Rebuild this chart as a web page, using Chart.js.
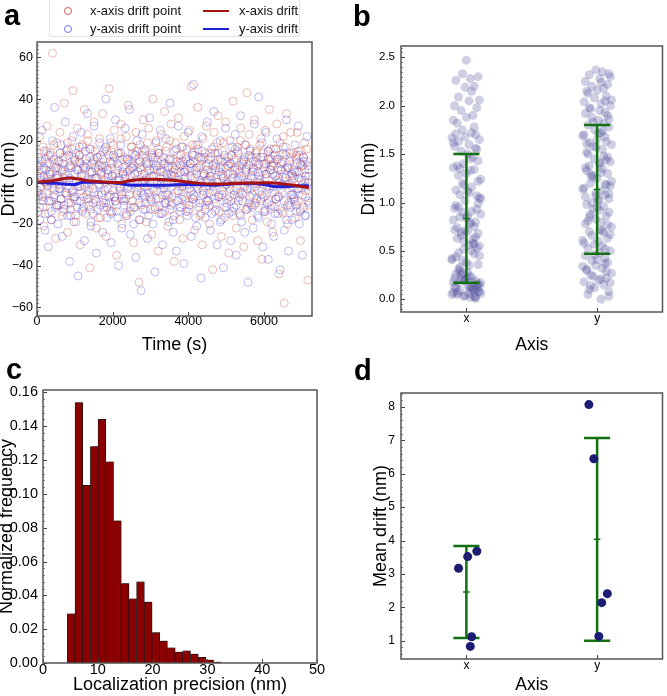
<!DOCTYPE html>
<html>
<head>
<meta charset="utf-8">
<script src="https://cdn.jsdelivr.net/npm/chart.js@4.4.1/dist/chart.umd.min.js"></script>
<style>
  body { margin: 0; background: #fff; width: 667px; height: 696px; position: relative; overflow: hidden;
         font-family: 'Liberation Sans', Arial, sans-serif; }
  canvas { position: absolute; }
  .lbl { position: absolute; font-weight: bold; font-size: 29px; line-height: 29px; color: #000; }
  #legendA { position: absolute; left: 49px; top: 0; width: 251px; height: 37px; border: 1px solid #e2e2e2;
             border-top: none; border-radius: 0 0 3px 3px; box-sizing: border-box; }
  .li { position: absolute; font-size: 13px; line-height: 18px; color: #111; white-space: nowrap; }
  .circ { position: absolute; width: 8px; height: 8px; border-radius: 50%; box-sizing: border-box; }
  .ln { position: absolute; width: 26px; height: 2px; }
</style>
</head>
<body>
<canvas id="chartA" width="333" height="356" style="left:0;top:0"></canvas>
<canvas id="chartB" width="333" height="356" style="left:334px;top:0"></canvas>
<canvas id="chartC" width="333" height="348" style="left:0;top:348px"></canvas>
<canvas id="chartD" width="333" height="348" style="left:334px;top:348px"></canvas>

<div id="legendA">
  <span class="circ" style="left:14px;top:7px;border:1px solid rgba(200,70,60,0.85)"></span>
  <div class="li" style="left:40px;top:2px">x-axis drift point</div>
  <span class="circ" style="left:14px;top:25px;border:1px solid rgba(90,90,235,0.85)"></span>
  <div class="li" style="left:40px;top:20px">y-axis drift point</div>
  <span class="ln" style="left:153px;top:10px;background:#a81414"></span>
  <div class="li" style="left:189px;top:2px">x-axis drift</div>
  <span class="ln" style="left:153px;top:28px;background:#1f1fd6"></span>
  <div class="li" style="left:189px;top:20px">y-axis drift</div>
</div>

<div class="lbl" style="left:4px;top:1px">a</div>
<div class="lbl" style="left:353px;top:2px">b</div>
<div class="lbl" style="left:6px;top:355px">c</div>
<div class="lbl" style="left:354px;top:356px">d</div>

<script>
// ---- a: drift points over time (x and y share the time stamps) ----
const aTime = [
  12, 38, 71, 95, 130, 158, 183, 214, 240, 268, 301, 327, 355, 381, 410, 442, 466, 494, 525, 551,
  583, 607, 636, 668, 690, 722, 749, 780, 806, 833, 864, 889, 917, 948, 975, 1003, 1030, 1061, 1086, 1117,
  1143, 1172, 1199, 1230, 1255, 1284, 1313, 1340, 1370, 1396, 1425, 1452, 1483, 1509, 1538, 1566, 1594, 1622, 1653, 1679,
  1708, 1737, 1763, 1794, 1820, 1849, 1878, 1905, 1934, 1962, 1990, 2019, 2046, 2075, 2103, 2132, 2160, 2188, 2217, 2244,
  2273, 2301, 2330, 2357, 2386, 2414, 2443, 2470, 2499, 2527, 2556, 2583, 2612, 2640, 2669, 2696, 2725, 2753, 2782, 2809,
  2838, 2866, 2895, 2922, 2951, 2979, 3008, 3035, 3064, 3092, 3121, 3148, 3177, 3205, 3234, 3261, 3290, 3318, 3347, 3374,
  3403, 3431, 3460, 3487, 3516, 3544, 3573, 3600, 3629, 3657, 3686, 3713, 3742, 3770, 3799, 3826, 3855, 3883, 3912, 3939,
  3968, 3996, 4025, 4052, 4081, 4109, 4138, 4165, 4194, 4222, 4251, 4278, 4307, 4335, 4364, 4391, 4420, 4448, 4477, 4504,
  4533, 4561, 4590, 4617, 4646, 4674, 4703, 4730, 4759, 4787, 4816, 4843, 4872, 4900, 4929, 4956, 4985, 5013, 5042, 5069,
  5098, 5126, 5155, 5182, 5211, 5239, 5268, 5295, 5324, 5352, 5381, 5408, 5437, 5465, 5494, 5521, 5550, 5578, 5607, 5634,
  5663, 5691, 5720, 5747, 5776, 5804, 5833, 5860, 5889, 5917, 5946, 5973, 6002, 6030, 6059, 6086, 6115, 6143, 6172, 6199,
  6228, 6256, 6285, 6312, 6341, 6369, 6398, 6425, 6454, 6482, 6511, 6538, 6567, 6595, 6624, 6651, 6680, 6708, 6737, 6764,
  6793, 6821, 6850, 6877, 6906, 6934, 6963, 6990, 7019, 7047, 7076, 7103, 7132, 7160, 7189
];
// wide spread localisations
const aDriftX = [
  8, -14, 22, 3, -6, 17, -21, 11, 0, 27, -9, 5, 14, -18, 62, -3, 9, -27, 19, 2,
  -11, 24, 6, -16, 12, 38, -5, 15, -24, 7, 1, -13, 20, 44, -8, 10, -19, 26, -2, 13,
  -30, 4, 18, -7, 35, -15, 9, 23, -4, -41, 16, 1, -10, 29, 7, -22, 12, -1, 21, -17,
  5, 33, -12, 8, -26, 15, 2, 45, -6, 19, -14, 10, 25, -9, -35, 6, 14, -3, 28, -20,
  11, -8, 3, 22, -16, 37, 0, -12, 17, 7, -29, 13, 24, -5, 9, -48, 18, -11, 4, 30,
  -2, 15, -19, 8, 26, -7, 12, -25, 40, 3, -13, 20, 6, -33, 14, -1, 23, -15, 9, 34,
  -6, 17, -21, 2, 11, 28, -10, 5, -38, 19, 8, -4, 31, -18, 13, 0, -27, 22, 6, -9,
  16, -14, 25, 3, 46, -8, 10, -23, 18, -2, 36, 7, -16, 12, -30, 21, 4, -11, 27, -5,
  9, -20, 14, 1, -42, 24, 6, -13, 19, 32, -7, 11, -26, 15, 3, -17, 29, -1, 8, -34,
  20, -9, 13, 39, -4, 7, -22, 17, 2, -15, 26, 10, -6, -31, 18, 5, 43, -12, 23, -3,
  12, -18, 6, 30, -10, 15, -28, 9, 0, 21, -37, 14, -7, 25, 4, -19, 11, 35, -13, 8,
  -24, 16, 3, -8, 28, 11, -44, 19, 6, -14, 22, -58, 13, 33, -20, 7, -11, 24, 1, -2,
  6, -17, 13, 24, -9, 2, -28, 15, 8, -12, 19, -4, 10, -47, 3
];
const aDriftY = [
  -5, 12, -18, 2, 25, -9, 7, -23, 15, -1, -31, 9, 4, -14, 20, -7, 36, -12, 3, -20,
  10, -3, 18, -26, 6, -11, 29, 1, -16, 13, -38, 8, -5, 22, -19, 4, 14, -9, -45, 17,
  -2, 24, -13, 7, -28, 11, 0, 33, -8, 16, -21, 5, -15, 27, 2, -34, 12, -6, 19, -11,
  8, -24, 15, -4, 40, -17, 6, -10, 21, -29, 3, 13, -7, 30, -14, 9, -40, 1, 18, -22,
  4, -9, 26, -16, 11, -2, 35, -25, 7, 14, -12, 0, -36, 20, 5, -18, 10, -52, 23, -6,
  16, -13, 2, -27, 9, 31, -8, 13, -20, 6, -43, 19, -4, 8, -15, 25, -1, -30, 12, -10,
  21, -5, 7, -19, 38, -11, 3, -24, 15, 0, -33, 10, 27, -14, 5, -8, 17, -39, 2, 11,
  -16, 24, -3, 9, -26, 14, 47, -7, 6, -21, 18, -12, 1, -46, 22, -4, 12, -17, 8, 29,
  -9, 3, -23, 16, -1, 34, -14, 7, -30, 11, -6, 20, -18, 4, -41, 13, 26, -10, 0, -15,
  9, -28, 17, 2, -12, 23, -35, 6, 14, -7, 32, -19, 1, 10, -24, 18, -3, -48, 8, 15,
  -11, 5, -22, 28, -2, 12, -16, 41, 3, -9, 19, -31, 7, -13, 24, -5, -37, 11, 16, -20,
  4, -26, 13, -8, 21, -15, 2, -42, 9, -1, 17, -23, 6, 30, -11, -33, 14, -6, -18, 3,
  -7, 18, -14, 5, 27, -20, 9, -3, -35, 12, 1, -16, 22, -9, 6
];
// core localisations (second batch on the same frames)
const aDriftX2 = [
  3, -7, 11, -2, 6, -12, 15, 0, -5, 9, -15, 4, 13, -9, 1, 18, -4, 7, -11, 10,
  -1, 14, -8, 5, -14, 2, 12, -6, 19, -3, 8, -10, 16, 1, -7, 11, -16, 6, -2, 13,
  9, -4, 17, -12, 3, 7, -8, 20, -1, 12, -13, 5, 10, -5, 15, -9, 2, -17, 8, 4,
  -6, 11, 1, 16, -10, 6, -3, 13, -14, 9, 0, 18, -7, 4, -11, 14, 2, -4, 21, -8,
  7, -2, 12, -15, 5, 10, -6, 3, 17, -9, 8, -12, 1, 15, -4, 11, -18, 6, 13, -1,
  4, -10, 9, 19, -5, 2, -13, 14, -3, 7, 12, -8, 0, 16, -11, 5, 10, -6, 3, -14,
  15, -1, 8, -9, 20, 4, -7, 11, -16, 6, 1, 13, -4, 9, -12, 17, -2, 5, -8, 12,
  -3, 10, -13, 7, 2, 18, -6, 13, -10, 4, 16, -1, 8, -15, 11, 3, -5, 14, -9, 6,
  1, -11, 12, 5, -4, 17, -8, 9, 0, 14, -14, 7, 3, -6, 19, -2, 10, -12, 4, 8,
  -7, 13, 2, -16, 11, 6, -3, 15, -9, 5, 20, -5, 9, -1, 12, -13, 7, 1, -10, 16,
  3, -6, 10, -11, 14, 0, 8, -4, 18, -8, 5, 12, -14, 2, 9, -2, 15, -9, 6, 11,
  -5, 9, -12, 16, 1, 7, -7, 13, -3, 10, -15, 4, 17, -1, 8, -10, 3, 12, -6, 14,
  2, -9, 11, -3, 15, 5, -13, 8, -1, 12, 6, -7, 16, 0, -11
];
const aDriftY2 = [
  -4, 8, -12, 1, 10, -7, 3, -15, 6, -2, 13, -9, 0, -18, 5, 11, -6, 2, -11, 7,
  -3, 14, -8, -1, 9, -13, 4, -5, 16, -10, 2, -16, 7, -4, 12, -7, 0, -12, 6, 10,
  -9, 3, -14, 8, -2, 15, -6, 1, -11, 5, -19, 9, -3, 11, -8, 2, -13, 6, -1, 13,
  -5, 7, -10, 0, 17, -12, 4, -7, 10, -15, 3, -4, 12, -9, 1, -17, 8, -2, 14, -6,
  5, -11, 2, -8, 11, -3, 6, -14, 9, -1, -20, 4, 13, -6, 0, -10, 7, -5, 15, -13,
  1, -7, 10, -2, -16, 6, -9, 3, 12, -4, -12, 8, -1, 14, -8, 2, -15, 5, -3, 9,
  -10, 4, -6, 11, -13, 0, 7, -18, 3, -5, 16, -9, 1, -12, 8, -2, 10, -7, 5, -14,
  6, -1, -11, 9, -4, 13, -8, 2, -17, 7, -3, 12, -10, 0, 15, -6, 4, -13, 1, -9,
  11, -5, 3, -15, 8, -2, 14, -10, 0, -7, 5, -19, 10, -4, 2, -12, 7, -1, -8, 12,
  -3, 9, -14, 4, -6, 16, -11, 1, -5, 8, -16, 3, -9, 11, -2, 6, -13, 0, 13, -7,
  2, -12, 7, -4, 10, -8, 5, -17, 1, 12, -6, -1, 9, -14, 4, -10, 15, -3, 6, -11,
  8, -2, -15, 3, 11, -7, 0, -13, 6, -5, 14, -9, 2, -18, 7, -1, 10, -12, 4, -6,
  -8, 5, -11, 9, -3, 13, -14, 1, -6, 10, -16, 3, -2, 8, -10
];
// smoothed drift curves
const aLineTimeX = [0, 400, 874, 1100, 1404, 1800, 2199, 2450, 2728, 3100, 3523, 4053, 4583, 5113, 5555, 6172, 6517, 6870, 7188];
const aLineX = [0, 0.8, 2.1, 1.6, 0.6, 0.2, -0.1, 0.8, 1.4, 1.5, 1.1, 0, -0.8, -0.6, -0.3, -0.2, -0.8, -1.6, -2.6];
const aLineTimeY = [0, 521, 963, 1228, 1581, 2111, 2552, 3347, 4053, 4671, 5113, 5642, 5995, 6348, 6870, 7188];
const aLineY = [0, -0.5, -1.1, 0, 0, -0.5, -1.4, -1.4, -1.0, -1.4, -0.8, -0.5, -1.1, -2.1, -1.8, -1.6];
const aTimeTicks = [0, 2000, 4000, 6000];
const aDriftTicks = [-60, -40, -20, 0, 20, 40, 60];

// ---- b: per-frame drift, jittered strip per axis ----
const bCats = ['x', 'y'];
const bJitter = [
  0.03, -0.07, 0.09, -0.02, 0.05, -0.1, 0.01, 0.07, -0.05, 0.11, -0.08, 0.04, -0.01, 0.08, -0.04, 0.06, -0.09, 0.02, -0.06, 0.1,
  -0.03, 0.07, -0.11, 0.0, 0.09, -0.05, 0.03, -0.08, 0.06, -0.02, 0.1, -0.07, 0.04, -0.1, 0.01, 0.08, -0.04, 0.05, -0.06, 0.02,
  0.11, -0.09, 0.03, -0.01, 0.07, -0.05, 0.09, -0.03, 0.0, -0.08, 0.06, -0.11, 0.04, 0.08, -0.06, 0.02, -0.02, 0.1, -0.07, 0.05,
  -0.04, 0.01, 0.09, -0.09, 0.06, -0.01, 0.03, -0.1, 0.07, -0.05, 0.11, 0.0, -0.03, 0.08, -0.08, 0.04, -0.06, 0.02, 0.1, -0.02,
  0.05, -0.07, 0.01, 0.09, -0.11, 0.06, -0.04, 0.03, -0.09, 0.07, -0.01, 0.1, -0.05, 0.02, 0.08, -0.08, 0.04, -0.03, 0.11, -0.06,
  0.0, 0.06, -0.1, 0.03, -0.02, 0.09, -0.07, 0.05, 0.01, -0.04, 0.08, -0.09, 0.02, -0.06, 0.1, -0.01, 0.07, -0.11, 0.04, -0.03,
  0.06, -0.08, 0.01, 0.09, -0.05, 0.03, -0.1, 0.11, -0.02, 0.07, -0.07, 0.0, 0.05, -0.04, 0.08, -0.09, 0.02, 0.1, -0.06, 0.04,
  -0.01, 0.06, -0.08, 0.03, 0.09, -0.03, 0.0, -0.1, 0.07, -0.05
];
const bValX = [
  0.02, 0.05, 0.08, 0.03, 0.11, 0.07, 0.14, 0.01, 0.09, 0.06, 0.12, 0.18, 0.04, 0.15, 0.21, 0.1, 0.13, 0.24, 0.17, 0.08,
  0.27, 0.19, 0.05, 0.22, 0.16, 0.29, 0.11, 0.26, 0.03, 0.2, 0.14, 0.07, 0.23, 0.18, 0.28, 0.12, 0.25, 0.09, 0.31, 0.06,
  0.17, 0.22, 0.13, 0.19, 0.02,
  0.33, 0.36, 0.4, 0.38, 0.44, 0.47, 0.42, 0.5, 0.53, 0.48, 0.56, 0.6, 0.55, 0.63, 0.58, 0.66, 0.7, 0.68, 0.72, 0.75,
  0.71, 0.78, 0.82, 0.8, 0.85, 0.88, 0.84, 0.9, 0.93, 0.97, 0.91, 0.95, 0.35, 0.45, 0.52, 0.62, 0.74, 0.86, 0.99, 0.41,
  0.57, 0.69, 0.79, 0.94, 0.64,
  1.02, 1.05, 1.08, 1.1, 1.07, 1.13, 1.16, 1.2, 1.24, 1.28, 1.3, 1.34, 1.36, 1.33, 1.4, 1.43, 1.38, 1.47, 1.5, 1.53,
  1.55, 1.58, 1.6, 1.63, 1.65, 1.68, 1.7, 1.67, 1.72, 1.75, 1.78, 1.71, 1.12, 1.22, 1.35, 1.45, 1.62, 1.04, 1.18, 1.56,
  1.82, 1.88, 1.9, 1.95, 1.98, 2.0, 2.05, 2.06, 2.09, 2.15, 2.19, 2.2, 2.26, 2.28, 2.3, 2.33, 2.47, 1.85
];
const bValY = [
  0.0, 0.05, 0.08, 0.12, 0.15, 0.18, 0.2, 0.22, 0.25, 0.27, 0.3, 0.32, 0.35, 0.38, 0.4, 0.43, 0.45, 0.48, 0.1, 0.17,
  0.24, 0.29, 0.34, 0.41, 0.03, 0.14, 0.21, 0.31, 0.37, 0.46,
  0.5, 0.53, 0.55, 0.58, 0.6, 0.63, 0.66, 0.69, 0.7, 0.72, 0.75, 0.78, 0.8, 0.83, 0.86, 0.88, 0.9, 0.93, 0.95, 0.98,
  0.52, 0.61, 0.71, 0.77, 0.85, 0.92, 0.57, 0.67, 0.81, 0.96,
  1.0, 1.02, 1.04, 1.06, 1.08, 1.1, 1.12, 1.15, 1.18, 1.2, 1.22, 1.25, 1.28, 1.3, 1.33, 1.35, 1.38, 1.4, 1.42, 1.45,
  1.48, 1.5, 1.03, 1.09, 1.14, 1.19, 1.26, 1.31, 1.36, 1.44, 1.07, 1.17, 1.29, 1.41, 1.47,
  1.52, 1.55, 1.58, 1.6, 1.62, 1.65, 1.68, 1.7, 1.72, 1.75, 1.78, 1.8, 1.82, 1.85, 1.88, 1.9, 1.92, 1.95, 1.98, 2.0,
  1.57, 1.63, 1.69, 1.74, 1.83, 1.93, 1.61, 1.71, 1.86, 1.97,
  2.02, 2.04, 2.06, 2.08, 2.1, 2.13, 2.16, 2.18, 2.2, 2.22, 2.25, 2.28, 2.3, 2.32, 2.35, 2.37, 2.05, 2.15, 2.24, 2.33
];
const bMean = [0.835, 1.135];
const bLow = [0.17, 0.47];
const bHigh = [1.50, 1.80];
const bTicks = [0, 0.5, 1, 1.5, 2, 2.5];

// ---- c: localization precision histogram ----
const cBinCenters = [5.13, 6.54, 7.94, 9.35, 10.75, 12.16, 13.56, 14.97, 16.37, 17.78,
                     19.18, 20.59, 21.99, 23.40, 24.80, 26.21, 27.61, 29.02, 30.42, 31.83];
const cFreq = [0.029, 0.154, 0.105, 0.128, 0.144, 0.119, 0.084, 0.047, 0.038, 0.048,
               0.036, 0.018, 0.013, 0.009, 0.0065, 0.0072, 0.0053, 0.0033, 0.0018, 0.0006];
const cXTicks = [0, 10, 20, 30, 40, 50];
const cYTicks = [0, 0.02, 0.04, 0.06, 0.08, 0.10, 0.12, 0.14, 0.16];

// ---- d: mean drift per dataset ----
const dJitX = [-0.06, 0.01, 0.08, 0.04, 0.03];
const dValX = [3.17, 3.52, 3.68, 1.12, 0.83];
const dJitY = [-0.063, -0.025, 0.035, 0.078, 0.013];
const dValY = [8.07, 6.45, 2.14, 2.41, 1.13];
const dMean = [2.46, 4.04];
const dLow = [1.08, 1.0];
const dHigh = [3.84, 7.07];
const dTicks = [1, 2, 3, 4, 5, 6, 7, 8];

// ---------------------------------------------------------------
const GREEN = '#127212';
const RED_PT = 'rgba(205,70,50,0.36)';
const BLUE_PT = 'rgba(70,70,235,0.36)';
Chart.defaults.font.family = "'Liberation Sans', Arial, sans-serif";
Chart.defaults.color = '#000';
Chart.defaults.animation = false;
Chart.defaults.events = [];
Chart.defaults.plugins.legend.display = false;
Chart.defaults.plugins.tooltip.enabled = false;

// box around the plot plus small inward ticks
Chart.register({
  id: 'frameTicks',
  afterDraw(chart, args, opts) {
    const { ctx, chartArea: a, scales } = chart;
    const ys = scales.y, xs = scales.x;
    ctx.save();
    ctx.lineWidth = 1;
    if (opts.minorY) {
      ctx.strokeStyle = '#888';
      const start = Math.ceil(ys.min / opts.minorY);
      for (let k = start; k * opts.minorY <= ys.max; k++) {
        const p = Math.round(ys.getPixelForValue(k * opts.minorY)) + 0.5;
        ctx.beginPath(); ctx.moveTo(a.left, p); ctx.lineTo(a.left + 2, p); ctx.stroke();
      }
    }
    ctx.strokeStyle = '#444';
    ys.ticks.forEach(t => {
      const p = Math.round(ys.getPixelForValue(t.value)) + 0.5;
      ctx.beginPath(); ctx.moveTo(a.left, p); ctx.lineTo(a.left + 4, p); ctx.stroke();
    });
    xs.ticks.forEach(t => {
      const p = Math.round(xs.getPixelForValue(t.value)) + 0.5;
      ctx.beginPath(); ctx.moveTo(p, a.bottom); ctx.lineTo(p, a.bottom - 4); ctx.stroke();
    });
    ctx.strokeStyle = '#555';
    ctx.lineWidth = 1.5;
    ctx.strokeRect(a.left, a.top, a.right - a.left, a.bottom - a.top);
    ctx.restore();
  }
});

const minus = v => (v < 0 ? '\u2212' + Math.abs(v) : String(v));

function axis(o) {
  return {
    type: 'linear', min: o.min, max: o.max, offset: false,
    afterBuildTicks: s => { s.ticks = o.ticks.map(v => ({ value: v })); },
    afterFit: s => { if (o.w !== undefined) s.width = o.w; if (o.h !== undefined) s.height = o.h; },
    grid: { display: false, drawTicks: false }, border: { display: false },
    ticks: { font: { size: o.fs }, padding: o.pad, maxRotation: 0, autoSkip: false, callback: o.fmt || minus },
    title: { display: true, text: o.title, font: { size: o.tfs || 18 }, padding: { top: o.tpad, bottom: 0 } }
  };
}

function errorBars(pos, low, mean, high, order) {
  const cap = 0.1;
  const base = { type: 'line', showLine: true, borderColor: GREEN, borderWidth: 2.5, pointRadius: 0, order: order };
  return [
    { ...base, data: [{ x: pos, y: low }, { x: pos, y: high }] },
    { ...base, data: [{ x: pos - cap, y: high }, { x: pos + cap, y: high }] },
    { ...base, data: [{ x: pos - cap, y: low }, { x: pos + cap, y: low }] },
    { ...base, borderWidth: 1.5, data: [{ x: pos - 0.025, y: mean }, { x: pos + 0.025, y: mean }] }
  ];
}

function ringPoints(values, color, order) {
  return {
    data: aTime.map((t, i) => ({ x: t, y: values[i] })).filter(p => p.y !== undefined),
    pointRadius: 4, pointBorderWidth: 1, pointBackgroundColor: 'rgba(0,0,0,0)',
    pointBorderColor: color, order: order
  };
}

// ---- chart a ----
new Chart(document.getElementById('chartA'), {
  type: 'scatter',
  data: {
    datasets: [
      { type: 'line', showLine: true, data: aLineTimeX.map((t, i) => ({ x: t, y: aLineX[i] })),
        borderColor: '#a81414', borderWidth: 3, pointRadius: 0, cubicInterpolationMode: 'monotone', order: 0 },
      { type: 'line', showLine: true, data: aLineTimeY.map((t, i) => ({ x: t, y: aLineY[i] })),
        borderColor: '#1f1fd6', borderWidth: 3, pointRadius: 0, cubicInterpolationMode: 'monotone', order: 0 },
      ringPoints(aDriftX, RED_PT, 4),
      ringPoints(aDriftY, BLUE_PT, 3),
      ringPoints(aDriftX2, RED_PT, 2),
      ringPoints(aDriftY2, BLUE_PT, 1)
    ]
  },
  options: {
    responsive: false,
    layout: { padding: { top: 42, right: 21, left: 0, bottom: 0 } },
    scales: {
      x: axis({ min: 0, max: 7270, ticks: aTimeTicks, h: 40, fs: 12.5, pad: -2, title: 'Time (s)', tpad: 5 }),
      y: axis({ min: -64.2, max: 67.4, ticks: aDriftTicks, w: 37, fs: 12.5, pad: 4, title: 'Drift (nm)', tpad: -2 })
    },
    plugins: { frameTicks: { minorY: 2 } }
  }
});

// ---- chart b ----
new Chart(document.getElementById('chartB'), {
  type: 'scatter',
  data: {
    datasets: [
      ...errorBars(0, bLow[0], bMean[0], bHigh[0], 0),
      ...errorBars(1, bLow[1], bMean[1], bHigh[1], 0),
      { data: bValX.map((v, i) => ({ x: 0 + bJitter[i], y: v })),
        pointRadius: 4.5, pointBorderWidth: 0, pointBackgroundColor: 'rgba(70,70,150,0.26)', order: 1 },
      { data: bValY.map((v, i) => ({ x: 1 + bJitter[i], y: v })),
        pointRadius: 4.5, pointBorderWidth: 0, pointBackgroundColor: 'rgba(70,70,150,0.26)', order: 1 }
    ]
  },
  options: {
    responsive: false,
    layout: { padding: { top: 46, right: 1, left: 27, bottom: 0 } },
    scales: {
      x: axis({ min: -0.5, max: 1.5, ticks: [0, 1], h: 44, fs: 12, pad: -1, title: 'Axis', tpad: 7, tfs: 17.5,
                fmt: v => bCats[v] }),
      y: axis({ min: -0.131, max: 2.617, ticks: bTicks, w: 40, fs: 11.5, pad: 6, title: 'Drift (nm)', tpad: -2, tfs: 17.5,
                fmt: v => v.toFixed(1) })
    },
    plugins: { frameTicks: { minorY: 0.05 } }
  }
});

// ---- chart c ----
new Chart(document.getElementById('chartC'), {
  type: 'bar',
  data: {
    datasets: [{
      data: cBinCenters.map((c, i) => ({ x: c, y: cFreq[i] })),
      backgroundColor: '#8b0000', borderColor: '#1a1a1a', borderWidth: 0.7,
      barPercentage: 1, categoryPercentage: 1
    }]
  },
  plugins: [{
    id: 'barShadow',
    beforeDatasetsDraw(chart) {
      const ctx = chart.ctx;
      ctx.save();
      ctx.shadowColor = 'rgba(0,0,0,0.3)';
      ctx.shadowOffsetX = 1.5;
      ctx.shadowOffsetY = -1;
      ctx.shadowBlur = 1;
    },
    afterDatasetsDraw(chart) { chart.ctx.restore(); }
  }],
  options: {
    responsive: false,
    layout: { padding: { top: 42, right: 16, left: 0, bottom: 0 } },
    scales: {
      x: axis({ min: 0, max: 50, ticks: cXTicks, h: 33, fs: 14.5, pad: -2, title: 'Localization precision (nm)', tpad: 2 }),
      y: axis({ min: 0, max: 0.1614, ticks: cYTicks, w: 43, fs: 14.5, pad: 5, title: 'Normalized frequency', tpad: -4,
                fmt: v => v.toFixed(2) })
    },
    plugins: { frameTicks: { minorY: 0.004 } }
  }
});

// ---- chart d ----
new Chart(document.getElementById('chartD'), {
  type: 'scatter',
  data: {
    datasets: [
      { data: dValX.map((v, i) => ({ x: 0 + dJitX[i], y: v })),
        pointRadius: 4.5, pointBorderWidth: 0, pointBackgroundColor: '#1c1c72', order: 0 },
      { data: dValY.map((v, i) => ({ x: 1 + dJitY[i], y: v })),
        pointRadius: 4.5, pointBorderWidth: 0, pointBackgroundColor: '#1c1c72', order: 0 },
      ...errorBars(0, dLow[0], dMean[0], dHigh[0], 1),
      ...errorBars(1, dLow[1], dMean[1], dHigh[1], 1)
    ]
  },
  options: {
    responsive: false,
    layout: { padding: { top: 45, right: 1, left: 38, bottom: 0 } },
    scales: {
      x: axis({ min: -0.5, max: 1.5, ticks: [0, 1], h: 37, fs: 12, pad: -1, title: 'Axis', tpad: 0, tfs: 17.5,
                fmt: v => bCats[v] }),
      y: axis({ min: 0.453, max: 8.418, ticks: dTicks, w: 29, fs: 12, pad: 6, title: 'Mean drift (nm)', tpad: -2 })
    },
    plugins: { frameTicks: { minorY: 0.2 } }
  }
});
</script>
</body>
</html>
